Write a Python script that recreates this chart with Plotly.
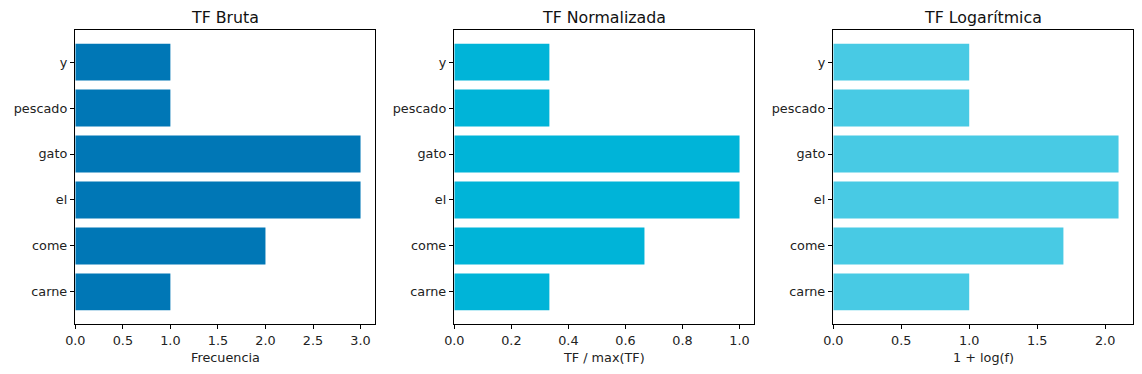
import math
import plotly.graph_objects as go

terms = ["carne", "come", "el", "gato", "pescado", "y"]
tf_raw = [1, 2, 3, 3, 1, 1]
tf_norm = [1/3, 2/3, 1.0, 1.0, 1/3, 1/3]
tf_log = [1.0, 1.693, 2.0986, 2.0986, 1.0, 1.0]

titles = ["TF Bruta", "TF Normalizada", "TF Logarítmica"]
xlabels = ["Frecuencia", "TF / max(TF)", "1 + log(f)"]
colors = ["#0077b6", "#00b4d8", "#48cae4"]
series = [tf_raw, tf_norm, tf_log]
xticks = [
    [0, 0.5, 1.0, 1.5, 2.0, 2.5, 3.0],
    [0, 0.2, 0.4, 0.6, 0.8, 1.0],
    [0, 0.5, 1.0, 1.5, 2.0],
]

W, H = 1142, 374
lefts = [75.3, 454.3, 833.3]
width_px = 299.5
top_px, bot_px = 30.3, 323.7

fig = go.Figure()
font = "DejaVu Sans, sans-serif"
for i in range(3):
    xa = "x" if i == 0 else f"x{i+1}"
    ya = "y" if i == 0 else f"y{i+1}"
    fig.add_trace(go.Bar(
        x=series[i], y=terms, orientation="h",
        marker=dict(color=colors[i], line=dict(width=0)),
        xaxis=xa, yaxis=ya, showlegend=False,
    ))
    dom = [lefts[i] / W, (lefts[i] + width_px) / W]
    mx = max(series[i]) * 1.05
    fig.update_layout(**{
        ("xaxis" if i == 0 else f"xaxis{i+1}"): dict(
            domain=dom, range=[0, mx], anchor=ya, automargin=False,
            tickvals=xticks[i], ticktext=[f"{v:.1f}" for v in xticks[i]],
            ticks="outside", ticklen=4.5, tickwidth=1, tickcolor="black",
            showline=True, linecolor="black", linewidth=1, mirror=True,
            showgrid=False, zeroline=False,
            tickfont=dict(family=font, size=12.8, color="#222"),
        ),
        ("yaxis" if i == 0 else f"yaxis{i+1}"): dict(
            domain=[1 - bot_px / H, 1 - top_px / H], anchor=xa, automargin=False,
            type="category", categoryorder="array", categoryarray=terms,
            range=[-0.69, 5.69],
            ticks="outside", ticklen=4.5, tickwidth=1, tickcolor="black",
            showline=True, linecolor="black", linewidth=1, mirror=True,
            showgrid=False, zeroline=False,
            tickfont=dict(family=font, size=12.8, color="#222"),
        ),
    })
    cx = (lefts[i] + width_px / 2) / W
    fig.add_annotation(text=titles[i], x=cx, y=1 - 17.3 / H, xref="paper", yref="paper",
                       showarrow=False, xanchor="center", yanchor="middle",
                       font=dict(family=font, size=15.8, color="#111"))
    fig.add_annotation(text=xlabels[i], x=cx, y=1 - 357.5 / H, xref="paper", yref="paper",
                       showarrow=False, xanchor="center", yanchor="middle",
                       font=dict(family=font, size=12.8, color="#222"))

fig.update_layout(
    width=W, height=H, margin=dict(l=0, r=0, t=0, b=0),
    paper_bgcolor="white", plot_bgcolor="white", bargap=0.2,
)
fig.write_html("out.html", config={"displayModeBar": False},
               post_script="document.body.style.margin='0';document.body.style.overflow='hidden';")
